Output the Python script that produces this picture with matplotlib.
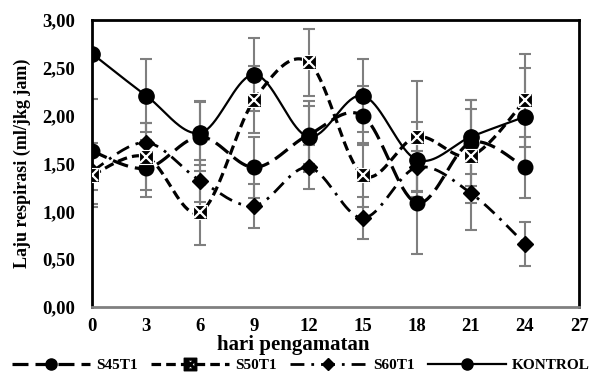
import numpy as np
import matplotlib
matplotlib.use('Agg')
import matplotlib.pyplot as plt
from matplotlib.lines import Line2D

# ---------------------------- data ----------------------------
hari = [0, 3, 6, 9, 12, 15, 18, 21, 24]

s45t1 = [1.63, 1.45, 1.78, 1.46, 1.80, 2.00, 1.09, 1.72, 1.46]
s50t1 = [1.38, 1.57, 0.99, 2.17, 2.56, 1.38, 1.78, 1.58, 2.16]
s60t1 = [1.42, 1.72, 1.32, 1.06, 1.46, 0.93, 1.46, 1.19, 0.66]
kontrol = [2.65, 2.21, 1.82, 2.43, 1.78, 2.21, 1.54, 1.78, 1.99]

err_s45t1 = [0.55, 0.30, 0.36, 0.32, 0.30, 0.31, 0.54, 0.45, 0.32]
err_s50t1 = [0.33, 0.35, 0.34, 0.35, 0.35, 0.33, 0.58, 0.49, 0.49]
err_s60t1 = [0.20, 0.20, 0.22, 0.23, 0.23, 0.22, 0.25, 0.39, 0.23]
err_kontrol = [0.00, 0.38, 0.33, 0.38, 0.37, 0.38, 0.39, 0.39, 0.51]

labels = ['S45T1', 'S50T1', 'S60T1', 'KONTROL']
x_ticks = [0, 3, 6, 9, 12, 15, 18, 21, 24, 27]
y_ticks = [0.0, 0.5, 1.0, 1.5, 2.0, 2.5, 3.0]

plt.rcParams['font.family'] = ['Liberation Serif', 'DejaVu Serif']
plt.rcParams['font.weight'] = 'bold'


def smooth_curve(x, y, n=40):
    # Excel-like smoothed line (Catmull-Rom bezier through the points)
    x = np.asarray(x, float)
    y = np.asarray(y, float)
    px, py = [], []
    for i in range(len(x) - 1):
        i0 = max(i - 1, 0)
        i3 = min(i + 2, len(x) - 1)
        c1x = x[i] + (x[i + 1] - x[i0]) / 6
        c1y = y[i] + (y[i + 1] - y[i0]) / 6
        c2x = x[i + 1] - (x[i3] - x[i]) / 6
        c2y = y[i + 1] - (y[i3] - y[i]) / 6
        t = np.linspace(0, 1, n)
        bx = (1-t)**3*x[i] + 3*(1-t)**2*t*c1x + 3*(1-t)*t**2*c2x + t**3*x[i+1]
        by = (1-t)**3*y[i] + 3*(1-t)**2*t*c1y + 3*(1-t)*t**2*c2y + t**3*y[i+1]
        px.extend(bx)
        py.extend(by)
    return px, py


fig = plt.figure(figsize=(5.94, 3.73), dpi=100)
ax = fig.add_axes([0.155, 0.177, 0.820, 0.769])

series = [s45t1, s50t1, s60t1, kontrol]
errors = [err_s45t1, err_s50t1, err_s60t1, err_kontrol]
styles = [(0, (5, 2.2)), (0, (3, 1.6)), (0, (5, 2.5, 1, 2.5)), '-']
widths = [2.3, 2.3, 2.0, 1.6]

# error bars first (gray)
for vals, err in zip(series, errors):
    ax.errorbar(hari, vals, yerr=err, fmt='none', ecolor='#7f7f7f',
                elinewidth=1.5, capsize=4.5, capthick=1.5, zorder=2)

# smoothed lines
for vals, ls, lw in zip(series, styles, widths):
    sx, sy = smooth_curve(hari, vals)
    ax.plot(sx, sy, color='black', linestyle=ls, linewidth=lw, zorder=3)

# markers
ax.plot(hari, s45t1, 'o', color='black', markersize=10.5, zorder=4)
ax.plot(hari, s60t1, 'D', color='black', markersize=8, zorder=4)
ax.plot(hari, kontrol, 'o', color='black', markersize=11, zorder=4)
ax.plot(hari, s50t1, 's', markerfacecolor='black', markeredgecolor='white',
        markeredgewidth=0.8, markersize=10, zorder=5)
ax.plot(hari, s50t1, 'x', color='white', markersize=8, markeredgewidth=1.6, zorder=6)

ax.set_xlim(0, 27)
ax.set_ylim(0, 3.0)
ax.set_xticks(x_ticks)
ax.set_xticklabels([str(v) for v in x_ticks], fontsize=13.5, fontweight='bold')
ax.set_yticks(y_ticks)
ax.set_yticklabels([f'{v:.2f}'.replace('.', ',') for v in y_ticks],
                   fontsize=13.5, fontweight='bold')
ax.tick_params(axis='y', length=0, pad=12)
ax.tick_params(axis='x', length=0, pad=8)

for side in ['left', 'top', 'right']:
    ax.spines[side].set_linewidth(2)
    ax.spines[side].set_color('black')
ax.spines['bottom'].set_linewidth(2)
ax.spines['bottom'].set_color('#808080')

ax.set_ylabel('Laju respirasi (ml/jkg jam)', fontsize=13, fontweight='bold', labelpad=8)
fig.text(0.493, 0.075, 'hari pengamatan', ha='center', va='center',
         fontsize=15, fontweight='bold')

# legend
handles = [
    Line2D([], [], color='black', linestyle=styles[0], linewidth=2.3,
           marker='o', markersize=8),
    Line2D([], [], color='black', linestyle=styles[1], linewidth=2.3,
           marker=r'$\boxtimes$', markersize=9),
    Line2D([], [], color='black', linestyle=styles[2], linewidth=2.0,
           marker='D', markersize=6),
    Line2D([], [], color='black', linestyle='-', linewidth=1.6,
           marker='o', markersize=8),
]
fig.legend(handles, labels, loc='lower center', bbox_to_anchor=(0.507, -0.035),
           ncol=4, frameon=False, handlelength=5.1, columnspacing=0.85,
           handletextpad=0.4, prop={'size': 11, 'weight': 'bold'})

fig.savefig('out.png', dpi=100)
